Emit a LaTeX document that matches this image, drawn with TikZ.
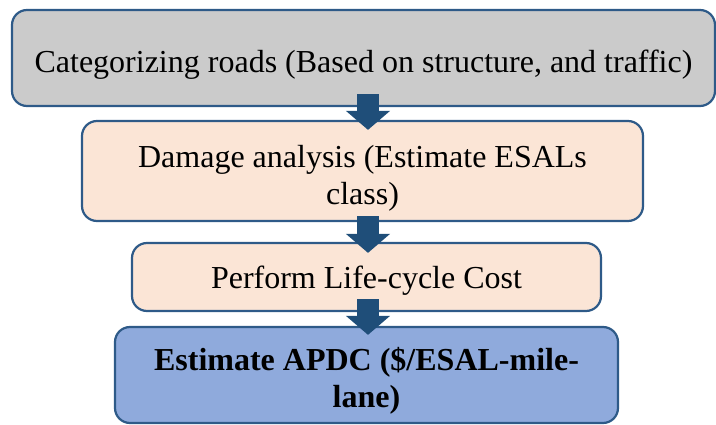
\documentclass[tikz,border=0pt]{standalone}
\usepackage{fontspec}
\setmainfont{Liberation Serif}
\usepackage{xcolor}
\usetikzlibrary{arrows.meta}
\definecolor{edgeblue}{HTML}{2E5A88}
\definecolor{arrowblue}{HTML}{1F4E79}
\definecolor{stepgray}{HTML}{CBCBCB}
\definecolor{steppeach}{HTML}{FBE5D6}
\definecolor{stepblue}{HTML}{8FAADC}

\begin{document}
\begin{tikzpicture}[x=1pt,y=1pt,
  stepbox/.style={draw=edgeblue, line width=2.2pt, rounded corners=15pt,
    inner sep=0pt},
  steptext/.style={inner sep=0pt, align=center,
    font=\fontsize{32}{37}\selectfont},
  flowarrow/.style={arrowblue, line width=22pt,
    -{Triangle[width=43pt,length=19pt]}}
]
  \useasboundingbox (0,0) rectangle (716,424);
  \coordinate (axis) at (368,0);

  \node[stepbox, fill=stepgray, minimum width=703pt, minimum height=96pt]
    (sort) at (363.5,366) {};
  \node[stepbox, fill=steppeach, minimum width=561pt, minimum height=100pt]
    (damage) at (362.5,253) {};
  \node[stepbox, fill=steppeach, minimum width=469pt, minimum height=68pt]
    (lcc) at (366.5,147) {};
  \node[stepbox, fill=stepblue, minimum width=503pt, minimum height=96pt]
    (apdc) at (366.5,49) {};

  % texts, set a little below the middle of each box
  \node[steptext] (sorttext) at ([yshift=-7pt]sort.center)
    {Categorizing roads (Based on structure, and traffic)};
  \node[steptext] (damagetext) at ([yshift=-7pt]damage.center)
    {Damage analysis (Estimate ESALs\\class)};
  \node[steptext] (lcctext) at ([yshift=-4pt]lcc.center)
    {Perform Life-cycle Cost};
  \node[steptext, font=\fontsize{32}{37}\selectfont\bfseries] (apdctext)
    at ([yshift=-6pt]apdc.center) {Estimate APDC (\$/ESAL-mile-\\lane)};

  % block arrows between the steps
  \draw[flowarrow] ([yshift=13pt]sort.south -| axis) -- ([yshift=-10pt]damage.north -| axis);
  \draw[flowarrow] ([yshift=6pt]damage.south -| axis) -- ([yshift=-11pt]lcc.north -| axis);
  \draw[flowarrow] ([yshift=13pt]lcc.south -| axis) -- ([yshift=-9pt]apdc.north -| axis);
\end{tikzpicture}
\end{document}
